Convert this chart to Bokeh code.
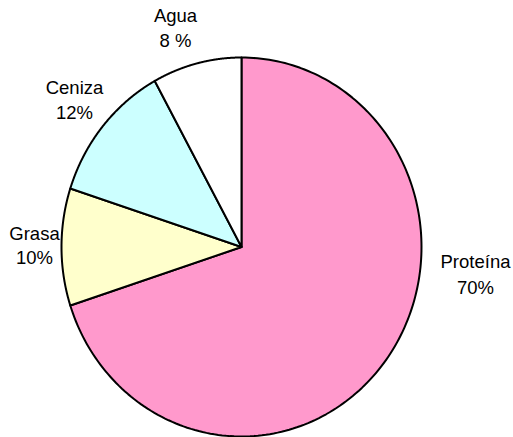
import numpy as np
from bokeh.plotting import figure
from bokeh.models import Range1d, ColumnDataSource
from bokeh.embed import file_html
from bokeh.resources import INLINE
from bokeh.core.properties import value

# ---- data ----
categories = ["Proteína", "Grasa", "Ceniza", "Agua"]
percents = [70, 10, 12, 8]
pct_labels = ["70%", "10%", "12%", "8 %"]
colors = ["#FF99CC", "#FFFFCC", "#CCFFFF", "#FFFFFF"]

# ---- layout (screen-like coordinates, y downwards) ----
W, H = 513, 437
cx, cy = 241.0, 246.5
rx, ry = 180.0, 189.5
start_deg = 90.0  # slices go clockwise from 12 o'clock

label_pos = {  # (x center, baseline of name, baseline of percent)
    "Proteína": (475, 261, 287),
    "Grasa": (34, 233, 257),
    "Ceniza": (74, 87, 112),
    "Agua": (175, 15, 40),
}

total = float(sum(percents))
xs, ys = [], []
a0 = start_deg
for v in percents:
    sweep = 360.0 * v / total
    a1 = a0 - sweep
    t = np.radians(np.linspace(a0, a1, 200))
    px = np.concatenate([[cx], cx + rx * np.cos(t)])
    py = np.concatenate([[cy], cy - ry * np.sin(t)])
    xs.append(list(px))
    ys.append(list(py))
    a0 = a1

p = figure(width=W, height=H, output_backend="svg", toolbar_location=None,
           x_range=Range1d(0, W), y_range=Range1d(H, 0), min_border=0)
p.axis.visible = False
p.grid.visible = False
p.outline_line_color = None

src = ColumnDataSource(dict(xs=xs, ys=ys, color=colors))
p.patches("xs", "ys", source=src, fill_color="color", line_color="black",
          line_width=2, line_join="round")

lx = [label_pos[c][0] for c in categories]
ly1 = [label_pos[c][1] for c in categories]
ly2 = [label_pos[c][2] for c in categories]
p.text(lx, ly1, text=categories, text_font=value("Liberation Sans"),
       text_font_size="18.5px", text_align="center", text_baseline="alphabetic",
       text_color="black")
p.text(lx, ly2, text=pct_labels, text_font=value("Liberation Sans"),
       text_font_size="18.5px", text_align="center", text_baseline="alphabetic",
       text_color="black")

open("out.html", "w").write(file_html(p, INLINE))
